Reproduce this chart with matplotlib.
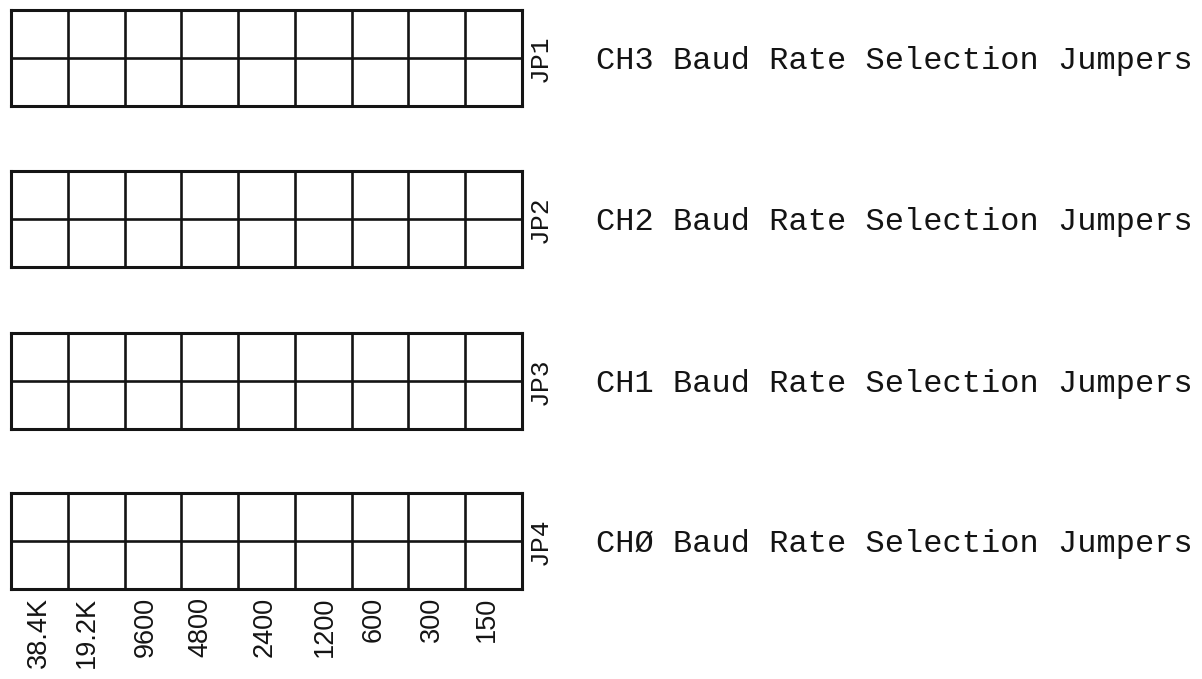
import matplotlib
matplotlib.use("Agg")
import matplotlib.pyplot as plt

# ---- data ----
jumpers = ["JP1", "JP2", "JP3", "JP4"]
channels = ["CH3", "CH2", "CH1", "CHØ"]
baud_rates = ["38.4K", "19.2K", "9600", "4800", "2400", "1200", "600", "300", "150"]
rows_per_block = 2

# ---- layout (pixels) ----
W, H = 1202, 679
block_left, block_right = 11, 522
block_tops = [10, 171, 333, 493]
block_h = 96
label_offsets = [0.0, -0.17, -0.12, -0.17, -0.03, 0.02, -0.12, -0.08, -0.12]  # in column units
ink = "#141414"

fig = plt.figure(figsize=(W / 100, H / 100), dpi=100)
fig.patch.set_facecolor("white")

ncols = len(baud_rates)
axes = []
for i, (jp, ch) in enumerate(zip(jumpers, channels)):
    top = block_tops[i]
    ax = fig.add_axes([block_left / W, 1 - (top + block_h) / H,
                       (block_right - block_left) / W, block_h / H])
    ax.set_xlim(0, ncols)
    ax.set_ylim(0, rows_per_block)
    ax.set_xticks(range(1, ncols))
    ax.set_yticks(range(1, rows_per_block))
    ax.grid(True, color=ink, linewidth=1.9)
    ax.tick_params(length=0, labelbottom=False, labelleft=False)
    for s in ax.spines.values():
        s.set_linewidth(2.2)
        s.set_color(ink)
    ax.set_facecolor("white")
    # JP label
    ax.text(1 + 18 / (block_right - block_left), 0.5, jp, transform=ax.transAxes,
            rotation=90, ha="center", va="center", fontsize=19,
            family="Liberation Mono", color=ink)
    # channel description
    ax.text(1 + (596 - block_right) / (block_right - block_left), 0.47,
            f"{ch} Baud Rate Selection Jumpers", transform=ax.transAxes,
            ha="left", va="center", fontsize=23, family="Liberation Mono", color=ink)
    axes.append(ax)

# baud-rate labels under the last block
bottom_ax = axes[-1]
for j, lab in enumerate(baud_rates):
    bottom_ax.text(j + 0.5 + label_offsets[j], -8 / block_h * rows_per_block, lab,
                   rotation=90, ha="center", va="top", fontsize=19.5,
                   family="Liberation Sans", color=ink, clip_on=False)

fig.savefig("out.png", dpi=100, facecolor="white")
